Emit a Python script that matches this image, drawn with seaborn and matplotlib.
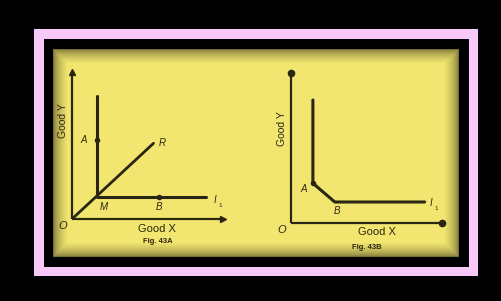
import numpy as np
import pandas as pd
import matplotlib
matplotlib.use("Agg")
import matplotlib.pyplot as plt
import seaborn as sns

# === data (diagram units, origin O = (0, 0), axes run to 10) ===
# Fig. 43A: perfect complements
a_curve_x = [1.65, 1.65, 8.9]
a_curve_y = [8.4, 1.5, 1.5]
a_ray_x = [0.0, 5.4]
a_ray_y = [0.0, 5.15]
a_pts_x = [1.65, 5.75]          # A, B
a_pts_y = [5.35, 1.5]
a_labels = ["A", "M", "B", "R", "I"]
a_label_x = [0.8, 2.1, 5.75, 5.95, 9.45]
a_label_y = [5.35, 0.85, 0.8, 5.15, 1.3]

# Fig. 43B: kinked indifference curve
b_curve_x = [1.45, 1.45, 2.9, 8.85]
b_curve_y = [8.2, 2.65, 1.4, 1.4]
b_labels = ["A", "B", "I"]
b_label_x = [0.85, 3.05, 9.3]
b_label_y = [2.3, 0.8, 1.3]

captions = ["Fig. 43A", "Fig. 43B"]

INK = "#2b2612"
YELLOW = np.array([242, 230, 112]) / 255
PINK = "#f8c8f8"

sns.set_theme(style="white")
plt.rcParams["font.family"] = ["Liberation Sans", "DejaVu Sans"]

W, H = 501, 301
fig = plt.figure(figsize=(W / 100, H / 100), dpi=100)
fig.patch.set_facecolor("black")

# background frame (pixel coordinates)
bg = fig.add_axes([0, 0, 1, 1])
bg.set_xlim(0, W)
bg.set_ylim(H, 0)
bg.axis("off")
bg.add_patch(plt.Rectangle((34, 29), 444, 247, color=PINK, lw=0))
bg.add_patch(plt.Rectangle((44, 39), 425, 228, color="black", lw=0))
# yellow panel with dark vignette at the edges
yy, xx = np.mgrid[0:208, 0:406]
dx = np.minimum(xx, 405 - xx) / 14.0
dy = np.minimum(yy, 207 - yy) / 14.0
shade = np.clip(np.minimum(dx, dy), 0, 1) ** 0.6
shade = 0.5 + 0.5 * shade
img = YELLOW[None, None, :] * shade[..., None]
bg.imshow(img, extent=(53, 459, 257, 49), aspect="auto", zorder=2)


def panel(left_px, origin_y_px, top_px, right_px):
    x0 = left_px / W
    y0 = 1 - origin_y_px / H
    ax = fig.add_axes([x0, y0, (right_px - left_px) / W, (origin_y_px - top_px) / H])
    ax.set_xlim(0, 10)
    ax.set_ylim(0, 10)
    ax.axis("off")
    ax.patch.set_alpha(0)
    return ax


def draw_axes(ax, end_marker, ylab_y):
    ax.plot([0, 0], [0, 10], color=INK, lw=1.6, solid_capstyle="butt", clip_on=False)
    ax.plot([0, 10], [0, 0], color=INK, lw=1.6, solid_capstyle="butt", clip_on=False)
    ax.plot([0], [10], marker=end_marker[0], ms=4.5, color=INK, clip_on=False)
    ax.plot([10], [0], marker=end_marker[1], ms=4.5, color=INK, clip_on=False)
    ax.text(-0.6, -0.45, "O", fontsize=8, style="italic", color=INK, ha="center", va="center")
    ax.text(-0.62, ylab_y, "Good Y", fontsize=7.5, rotation=90, color=INK,
            ha="center", va="center", clip_on=False, zorder=5)


# --- Fig. 43A ---
axA = panel(72, 219, 72, 223)
draw_axes(axA, ["^", ">"], 6.7)
sns.lineplot(x=a_curve_x, y=a_curve_y, sort=False, estimator=None, color=INK, lw=2.2, ax=axA)
sns.lineplot(x=a_ray_x, y=a_ray_y, sort=False, estimator=None, color=INK, lw=2.0, ax=axA)
sns.scatterplot(x=a_pts_x, y=a_pts_y, s=16, color=INK, linewidth=0, zorder=4, ax=axA)
for lab, lx, ly in zip(a_labels, a_label_x, a_label_y):
    axA.text(lx, ly, lab, fontsize=7, style="italic", color=INK, ha="center", va="center")
    if lab == "I":
        axA.text(lx + 0.35, ly - 0.35, "1", fontsize=4.5, color=INK, ha="center", va="center")
axA.text(5.6, -0.65, "Good X", fontsize=8, color=INK, ha="center", va="center")
axA.text(5.7, -1.5, captions[0], fontsize=5.5, weight="bold", color=INK, ha="center", va="center")

# --- Fig. 43B ---
axB = panel(291, 223, 73, 442)
draw_axes(axB, ["o", "o"], 6.3)
sns.lineplot(x=b_curve_x, y=b_curve_y, sort=False, estimator=None, color=INK, lw=2.2, ax=axB)
sns.scatterplot(x=b_curve_x[1:2], y=b_curve_y[1:2], s=16, color=INK, linewidth=0, zorder=4, ax=axB)
for lab, lx, ly in zip(b_labels, b_label_x, b_label_y):
    axB.text(lx, ly, lab, fontsize=7, style="italic", color=INK, ha="center", va="center")
    if lab == "I":
        axB.text(lx + 0.35, ly - 0.35, "1", fontsize=4.5, color=INK, ha="center", va="center")
axB.text(5.7, -0.6, "Good X", fontsize=8, color=INK, ha="center", va="center")
axB.text(5.0, -1.65, captions[1], fontsize=5.5, weight="bold", color=INK, ha="center", va="center")

fig.savefig("out.png", dpi=100, facecolor=fig.get_facecolor())
